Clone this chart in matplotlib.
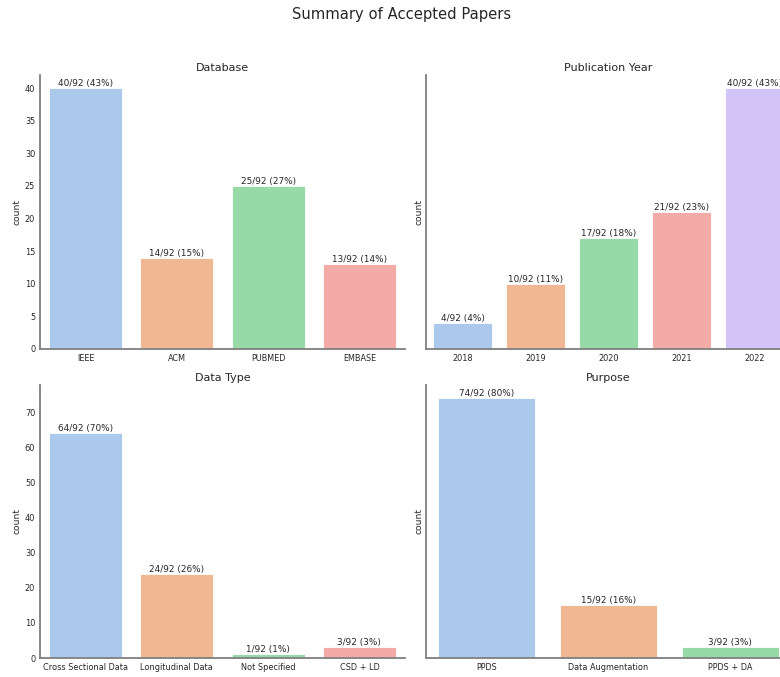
import matplotlib
matplotlib.use("Agg")
import matplotlib.pyplot as plt
import seaborn as sns

total = 92

database_labels = ["IEEE", "ACM", "PUBMED", "EMBASE"]
database_counts = [40, 14, 25, 13]

year_labels = ["2018", "2019", "2020", "2021", "2022"]
year_counts = [4, 10, 17, 21, 40]

datatype_labels = ["Cross Sectional Data", "Longitudinal Data", "Not Specified", "CSD + LD"]
datatype_counts = [64, 24, 1, 3]

purpose_labels = ["PPDS", "Data Augmentation", "PPDS + DA"]
purpose_counts = [74, 15, 3]

# seaborn barplot desaturates the palette (saturation=0.75)
colors = [sns.desaturate(c, 0.75) for c in sns.color_palette("pastel", 5)]

fig = plt.figure(figsize=(7.8, 6.77), dpi=100)
W, H = 780, 677


def make_ax(x0, y0, x1, y1):
    return fig.add_axes([x0 / W, 1 - y1 / H, (x1 - x0) / W, (y1 - y0) / H])


ax1 = make_ax(40, 75, 405, 349)
ax2 = make_ax(426, 75, 791, 349)
ax3 = make_ax(40, 385, 405, 658)
ax4 = make_ax(426, 385, 791, 658)

panels = [
    (ax1, "Database", database_labels, database_counts),
    (ax2, "Publication Year", year_labels, year_counts),
    (ax3, "Data Type", datatype_labels, datatype_counts),
    (ax4, "Purpose", purpose_labels, purpose_counts),
]

for ax, title, labels, counts in panels:
    x = range(len(labels))
    bars = ax.bar(x, counts, width=0.8, color=colors[:len(labels)],
                  edgecolor="white", linewidth=0.6)
    ax.bar_label(bars, labels=[f"{c}/{total} ({c / total:.0%})" for c in counts],
                 fontsize=6.4, color="#262626", padding=0)
    ax.set_xticks(list(x))
    ax.set_xticklabels(labels)
    ax.set_xlim(-0.5, len(labels) - 0.5)
    ax.set_title(title, fontsize=8.0, color="#262626", pad=3)
    ax.set_ylabel("count", fontsize=6.6, color="#262626", labelpad=2)
    ax.tick_params(length=0, labelsize=5.9, colors="#262626", pad=3.5)
    for s in ["top", "right"]:
        ax.spines[s].set_visible(False)
    for s in ["left", "bottom"]:
        ax.spines[s].set_color("#7f7f7f")
        ax.spines[s].set_linewidth(1.3)

# shared y per row
for a, b in [(ax1, ax2), (ax3, ax4)]:
    top = max(max(a.get_ylim()), max(b.get_ylim()))
    a.set_ylim(0, top)
    b.set_ylim(0, top)
    b.tick_params(labelleft=False)

ax1.set_yticks(range(0, 45, 5))
ax3.set_yticks(range(0, 80, 10))

fig.suptitle("Summary of Accepted Papers", fontsize=10.6, color="#262626",
             x=402 / W, y=0.99)

fig.savefig("out.png", dpi=100)
